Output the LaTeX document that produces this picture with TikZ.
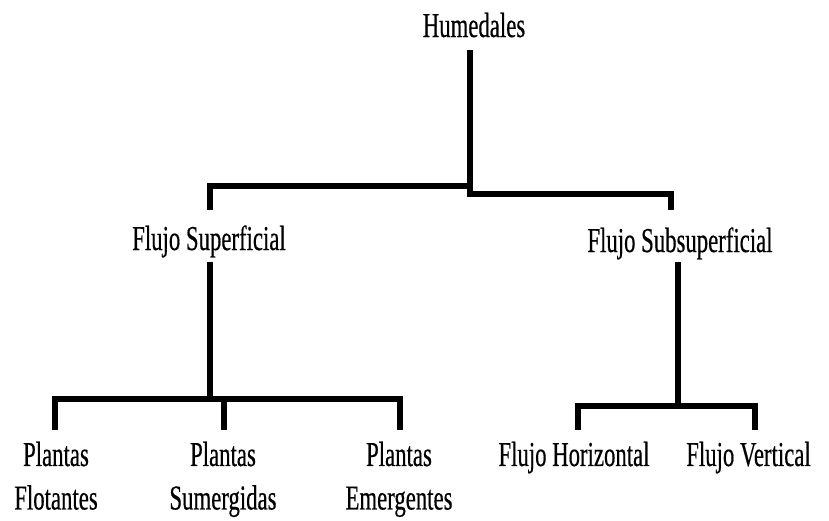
\documentclass[tikz,border=0pt]{standalone}
\usepackage{fontspec}
\setmainfont[FakeStretch=0.65,FakeBold=0.4]{Liberation Serif}
\begin{document}
\begin{tikzpicture}[x=1pt,y=-1pt,
  lbl/.style={inner sep=0pt, font=\fontsize{35}{43.5}\selectfont, align=center},
  conn/.style={line width=6.5pt, line join=miter, draw=black}]
\useasboundingbox[fill=white] (0,0) rectangle (829,520);
% nodes
\node[lbl, anchor=base] (hum) at (474,37) {Humedales};
\node[lbl, anchor=base] (fs) at (209,250) {Flujo Superficial};
\node[lbl, anchor=base] (fss) at (680,252) {Flujo Subsuperficial};
\node[lbl, anchor=north] (pf) at (56,441.5) {Plantas\\Flotantes};
\node[lbl, anchor=north] (ps) at (223,441.5) {Plantas\\Sumergidas};
\node[lbl, anchor=north] (pe) at (399,441.5) {Plantas\\Emergentes};
\node[lbl, anchor=north] (fh) at (574,441.5) {Flujo Horizontal};
\node[lbl, anchor=north] (fv) at (748.5,441.5) {Flujo Vertical};
% connectors
\draw[conn] ([shift={(-4,13)}]hum.base) -- ([shift={(-4,149)}]hum.base) -| ([shift={(1,-40)}]fs.base);
\draw[conn] ([shift={(-4,13)}]hum.base) |- ([shift={(-9,-58)}]fss.base) -- ([shift={(-9,-42)}]fss.base);
\draw[conn] ([shift={(1,12)}]fs.base) |- ([shift={(-1,-42.5)}]pf.north) -- ([shift={(-1,-11.5)}]pf.north);
\draw[conn] ([shift={(1,12)}]fs.base) |- ([shift={(1,-42.5)}]ps.north) -- ([shift={(1,-11.5)}]ps.north);
\draw[conn] ([shift={(1,12)}]fs.base) |- ([shift={(1,-42.5)}]pe.north) -- ([shift={(1,-11.5)}]pe.north);
\draw[conn] ([shift={(-2,10)}]fss.base) |- ([shift={(4,-35.5)}]fh.north) -- ([shift={(4,-11.5)}]fh.north);
\draw[conn] ([shift={(-2,10)}]fss.base) |- ([shift={(6.5,-35.5)}]fv.north) -- ([shift={(6.5,-11.5)}]fv.north);
\end{tikzpicture}
\end{document}
